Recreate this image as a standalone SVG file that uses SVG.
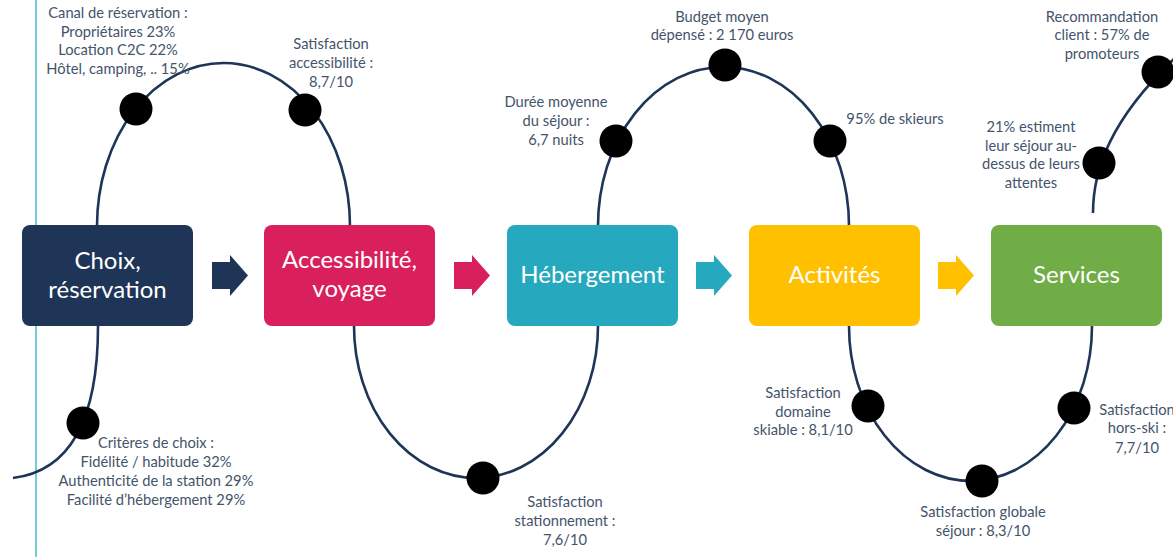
<svg xmlns="http://www.w3.org/2000/svg" width="1173" height="557" viewBox="0 0 1173 557">
<style>
.bg{fill:#ffffff}
.arc{fill:none;stroke:#1F3557;stroke-width:2.6}
.dot{fill:#000000}
.lbl{font-family:Lato,"Open Sans","Liberation Sans",sans-serif;font-size:14.7px;fill:#44546A;text-anchor:middle}
.box{stroke:none}
.btxt{font-family:Lato,"Open Sans","Liberation Sans",sans-serif;font-size:24px;fill:#ffffff;text-anchor:middle}
.vline{stroke:#4FC1D0;stroke-width:1.6}
</style>
<rect class="bg" x="0" y="0" width="1173" height="557"/>
<line class="vline" x1="36" y1="0" x2="36" y2="557"/>
<g id="connectors">
  <path class="arc" d="M97,226 A126.5,163 0 0 1 350,226"/>
  <path class="arc" d="M98,326 C98,405 78,470 13,478"/>
  <path class="arc" d="M354,326 A122,152 0 0 0 598,326"/>
  <path class="arc" d="M598,226 A125.5,159 0 0 1 849,226"/>
  <path class="arc" d="M849,326 A121.5,155 0 0 0 1092,326"/>
  <path class="arc" d="M1093,213 C1093,170 1110,120 1175,58"/>
  <path id="arrow1" fill="#1F3557" d="M212,262 H230 V255 L248,275.5 L230,296 V289 H212 Z"/>
  <path id="arrow2" fill="#D91F5C" d="M454,262 H472 V255 L490,275.5 L472,296 V289 H454 Z"/>
  <path id="arrow3" fill="#26A9BE" d="M696,262 H714 V255 L732,275.5 L714,296 V289 H696 Z"/>
  <path id="arrow4" fill="#FFC000" d="M938,262 H956 V255 L974,275.5 L956,296 V289 H938 Z"/>
</g>
<g id="dots">
  <circle class="dot" cx="136" cy="109" r="16.5"/>
  <circle class="dot" cx="305" cy="110" r="16.5"/>
  <circle class="dot" cx="83" cy="423" r="16.5"/>
  <circle class="dot" cx="483" cy="478" r="16.5"/>
  <circle class="dot" cx="616" cy="141" r="16.5"/>
  <circle class="dot" cx="725" cy="65" r="16.5"/>
  <circle class="dot" cx="830" cy="141" r="16.5"/>
  <circle class="dot" cx="868" cy="406" r="16.5"/>
  <circle class="dot" cx="982" cy="481" r="16.5"/>
  <circle class="dot" cx="1074" cy="408" r="16.5"/>
  <circle class="dot" cx="1099" cy="163" r="16.5"/>
  <circle class="dot" cx="1158" cy="72" r="16.5"/>
</g>
<g id="node-choix">
  <rect class="box" x="22" y="225" width="171" height="101" rx="8" fill="#1F3557"/>
  <text class="btxt" x="107.5" y="269">Choix,</text>
  <text class="btxt" x="107.5" y="298">réservation</text>
</g>
<g id="node-accessibilite">
  <rect class="box" x="264" y="225" width="171" height="101" rx="8" fill="#D91F5C"/>
  <text class="btxt" x="349.5" y="268">Accessibilité,</text>
  <text class="btxt" x="349.5" y="297">voyage</text>
</g>
<g id="node-hebergement">
  <rect class="box" x="507" y="225" width="171" height="101" rx="8" fill="#26A9BE"/>
  <text class="btxt" x="592.5" y="283">Hébergement</text>
</g>
<g id="node-activites">
  <rect class="box" x="749" y="225" width="171" height="101" rx="8" fill="#FFC000"/>
  <text class="btxt" x="834.5" y="283">Activités</text>
</g>
<g id="node-services">
  <rect class="box" x="991" y="225" width="171" height="101" rx="8" fill="#70AD47"/>
  <text class="btxt" x="1076.5" y="283">Services</text>
</g>
<g id="labels">
  <text class="lbl" x="118" y="18">Canal de réservation :</text>
  <text class="lbl" x="118" y="37">Propriétaires 23%</text>
  <text class="lbl" x="118" y="55">Location C2C 22%</text>
  <text class="lbl" x="118" y="74">Hôtel, camping, .. 15%</text>

  <text class="lbl" x="331" y="49">Satisfaction</text>
  <text class="lbl" x="331" y="68">accessibilité :</text>
  <text class="lbl" x="331" y="87">8,7/10</text>

  <text class="lbl" x="156" y="448">Critères de choix :</text>
  <text class="lbl" x="156" y="467">Fidélité / habitude 32%</text>
  <text class="lbl" x="156" y="486">Authenticité de la station 29%</text>
  <text class="lbl" x="156" y="505">Facilité d’hébergement 29%</text>

  <text class="lbl" x="565" y="507">Satisfaction</text>
  <text class="lbl" x="565" y="526">stationnement :</text>
  <text class="lbl" x="565" y="545">7,6/10</text>

  <text class="lbl" x="556" y="107">Durée moyenne</text>
  <text class="lbl" x="556" y="126">du séjour :</text>
  <text class="lbl" x="556" y="145">6,7 nuits</text>

  <text class="lbl" x="722" y="22">Budget moyen</text>
  <text class="lbl" x="722" y="40">dépensé : 2 170 euros</text>

  <text class="lbl" x="895" y="124">95% de skieurs</text>

  <text class="lbl" x="1031" y="132">21% estiment</text>
  <text class="lbl" x="1031" y="151">leur séjour au-</text>
  <text class="lbl" x="1031" y="169">dessus de leurs</text>
  <text class="lbl" x="1031" y="188">attentes</text>

  <text class="lbl" x="1102" y="22">Recommandation</text>
  <text class="lbl" x="1102" y="40">client : 57% de</text>
  <text class="lbl" x="1102" y="59">promoteurs</text>

  <text class="lbl" x="803" y="398">Satisfaction</text>
  <text class="lbl" x="803" y="417">domaine</text>
  <text class="lbl" x="803" y="435">skiable : 8,1/10</text>

  <text class="lbl" x="983" y="517">Satisfaction globale</text>
  <text class="lbl" x="983" y="536">séjour : 8,3/10</text>

  <text class="lbl" x="1137" y="415">Satisfaction</text>
  <text class="lbl" x="1137" y="433">hors-ski :</text>
  <text class="lbl" x="1137" y="453">7,7/10</text>
</g>
</svg>
